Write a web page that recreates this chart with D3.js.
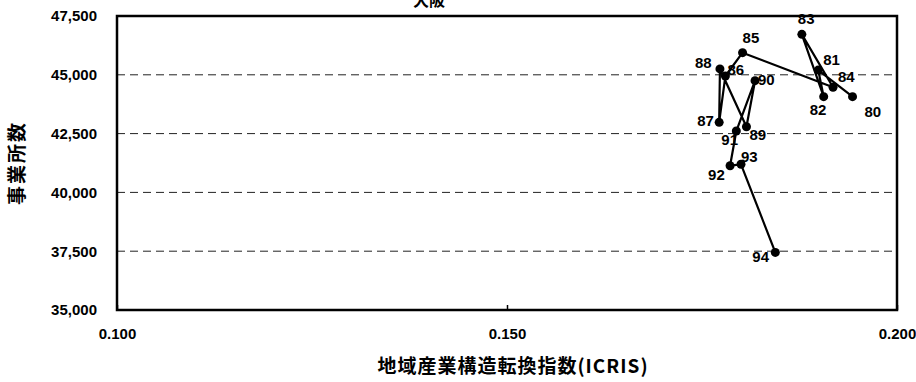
<!DOCTYPE html>
<html>
<head>
<meta charset="utf-8">
<script src="https://cdn.jsdelivr.net/npm/d3@7"></script>
<style>
  body { margin: 0; background: #fff; }
  text { font-family: "Liberation Sans", Arial, sans-serif; font-weight: bold; fill: #000; }
  .cjk { font-family: "Noto Sans CJK JP", sans-serif; font-weight: bold; fill: #000; }
</style>
</head>
<body>
<div id="chart"></div>
<script>
// year labels and values (ICRIS index, number of establishments)
const years = ["80", "81", "82", "83", "84", "85", "86", "87", "88", "89", "90", "91", "92", "93", "94"];
const icris = [0.1943, 0.1899, 0.1906, 0.1878, 0.1918, 0.1802, 0.1780, 0.1772, 0.1773, 0.1807, 0.1818, 0.1794, 0.1786, 0.1800, 0.1844];
const establishments = [44070, 45200, 44070, 46720, 44470, 45940, 44950, 42980, 45250, 42790, 44750, 42610, 41135, 41195, 37450];

const xTicks = [0.100, 0.150, 0.200];
const yTicks = [35000, 37500, 40000, 42500, 45000, 47500];

// label offset per year (dx, dy) so numbers sit where the original put them
const labelOffset = {
    "80": [12, 20], "81": [5, -5], "82": [-14, 18], "83": [-4, -10], "84": [5, -5],
    "85": [0, -10], "86": [2, -1], "87": [-22, 4], "88": [-25, -1], "89": [3, 13],
    "90": [3, 4], "91": [-15, 14], "92": [-22, 14], "93": [0, -2], "94": [-23, 10]
};

const width = 916, height = 382;
const margin = { top: 16, right: 19, bottom: 72, left: 117 };
const innerW = width - margin.left - margin.right;
const innerH = height - margin.top - margin.bottom;

const svg = d3.select("#chart").append("svg")
    .attr("width", width)
    .attr("height", height);

const chart = svg.append("g")
    .attr("transform", `translate(${margin.left},${margin.top})`);

const x = d3.scaleLinear().domain([0.1, 0.2]).range([0, innerW]);
const y = d3.scaleLinear().domain([35000, 47500]).range([innerH, 0]);

// dashed grid lines
chart.selectAll(".grid")
    .data(yTicks.filter(d => d > 35000 && d < 47500))
    .enter()
    .append("line")
    .attr("x1", 0)
    .attr("x2", innerW)
    .attr("y1", d => y(d))
    .attr("y2", d => y(d))
    .attr("stroke", "#222")
    .attr("stroke-width", 1)
    .attr("stroke-dasharray", "8 5");

// y axis labels
const yAxis = d3.axisLeft(y).tickValues(yTicks).tickFormat(d3.format(",")).tickSize(0).tickPadding(20);
chart.append("g")
    .call(yAxis)
    .call(g => g.select(".domain").remove())
    .selectAll("text")
    .style("font-size", "15px")
    .style("font-family", "'Liberation Sans', Arial, sans-serif")
    .style("font-weight", "bold")
    .attr("fill", "#000");

// x axis labels, small inward ticks
const xg = chart.append("g")
    .attr("transform", `translate(0,${innerH})`)
    .call(d3.axisBottom(x).tickValues(xTicks).tickFormat(d3.format(".3f")).tickSizeInner(-5).tickSizeOuter(0).tickPadding(18));
xg.select(".domain").remove();
xg.selectAll("line").attr("stroke", "#000").attr("stroke-width", 1.5);
xg.selectAll("text")
    .style("font-size", "15px")
    .style("font-family", "'Liberation Sans', Arial, sans-serif")
    .style("font-weight", "bold")
    .attr("fill", "#000");

// frame
chart.append("rect")
    .attr("width", innerW)
    .attr("height", innerH)
    .attr("fill", "none")
    .attr("stroke", "#000")
    .attr("stroke-width", 2.5);

// path through years
const line = d3.line()
    .x((d, i) => x(icris[i]))
    .y((d, i) => y(establishments[i]));

chart.append("path")
    .datum(years)
    .attr("d", line)
    .attr("fill", "none")
    .attr("stroke", "#000")
    .attr("stroke-width", 2.2)
    .attr("stroke-linejoin", "round");

chart.selectAll(".pt")
    .data(years)
    .enter()
    .append("circle")
    .attr("cx", (d, i) => x(icris[i]))
    .attr("cy", (d, i) => y(establishments[i]))
    .attr("r", 4.5)
    .attr("fill", "#000");

chart.selectAll(".yr")
    .data(years)
    .enter()
    .append("text")
    .attr("x", (d, i) => x(icris[i]) + labelOffset[d][0])
    .attr("y", (d, i) => y(establishments[i]) + labelOffset[d][1])
    .style("font-size", "15px")
    .text(d => d);

// title (cut off at the top, as in the original)
svg.append("text")
    .attr("class", "cjk")
    .attr("x", 429)
    .attr("y", 6)
    .attr("text-anchor", "middle")
    .style("font-size", "16px")
    .text("大阪");

// axis titles
svg.append("text")
    .attr("class", "cjk")
    .attr("x", 513)
    .attr("y", 373)
    .attr("text-anchor", "middle")
    .style("font-size", "19px")
    .style("letter-spacing", "1px")
    .text("地域産業構造転換指数(ICRIS)");

svg.append("text")
    .attr("class", "cjk")
    .attr("transform", "translate(24,163) rotate(-90)")
    .attr("text-anchor", "middle")
    .style("font-size", "19px")
    .style("letter-spacing", "2px")
    .text("事業所数");
</script>
</body>
</html>
